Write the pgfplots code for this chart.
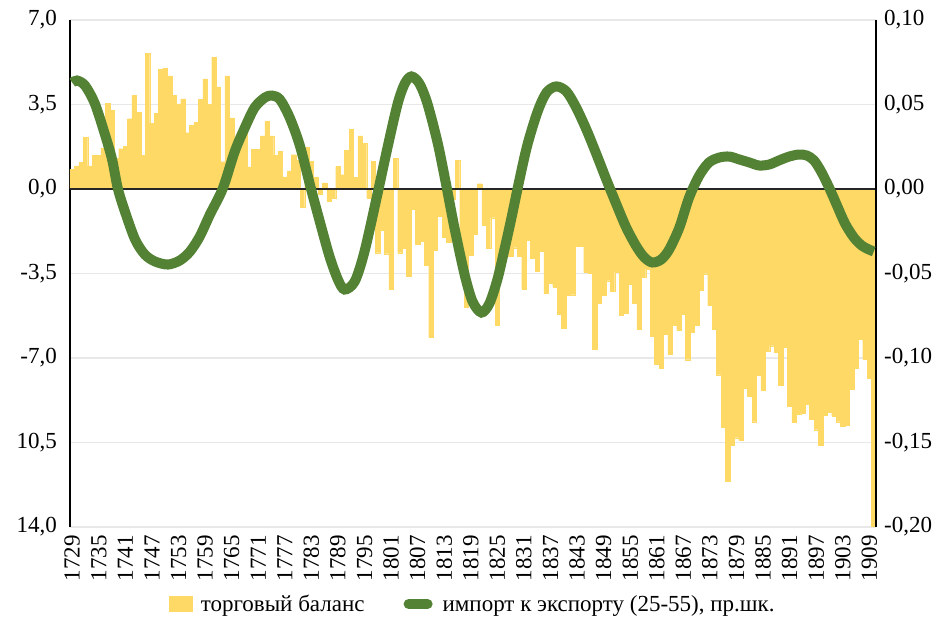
\documentclass[border=0pt]{standalone}
\usepackage{pgfplots}
\pgfplotsset{compat=1.18}
\usepackage{pgfplotstable}
\usepackage{fontspec}
\setmainfont{Liberation Serif}
\definecolor{barcol}{HTML}{FFD966}
\definecolor{linecol}{HTML}{548235}
\newcommand{\chartfont}{\fontsize{23}{27}\selectfont}

\pgfplotstableread{
year val
1729 0.82
1730 0.96
1731 1.10
1732 2.15
1733 0.96
1734 1.40
1735 1.40
1736 1.70
1737 3.56
1738 3.25
1739 1.26
1740 1.67
1741 1.76
1742 2.91
1743 3.87
1744 3.18
1745 1.40
1746 5.63
1747 2.72
1748 3.13
1749 4.97
1750 5.01
1751 4.69
1752 3.87
1753 3.53
1754 3.73
1755 2.33
1756 2.64
1757 2.77
1758 3.71
1759 4.56
1760 3.50
1761 5.46
1762 4.23
1763 1.13
1764 4.69
1765 2.95
1766 2.09
1767 2.20
1768 2.50
1769 0.92
1770 1.65
1771 1.65
1772 2.20
1773 2.81
1774 2.20
1775 1.40
1776 1.55
1777 0.50
1778 0.75
1779 1.42
1780 1.20
1781 -0.75
1782 1.73
1783 1.14
1784 0.50
1785 -0.20
1786 0.25
1787 -0.50
1788 -0.37
1789 0.93
1790 0.59
1791 1.59
1792 2.47
1793 0.49
1794 2.20
1795 1.89
1796 -0.37
1797 1.14
1798 -2.64
1799 -1.70
1800 -2.68
1801 -4.14
1802 1.28
1803 -2.64
1804 -2.47
1805 -3.62
1806 -0.85
1807 -2.30
1808 -2.15
1809 -3.16
1810 -6.13
1811 -2.53
1812 -1.13
1813 -2.00
1814 -2.20
1815 -0.41
1816 1.20
1817 -2.50
1818 -4.90
1819 -2.74
1820 -1.88
1821 0.22
1822 -1.50
1823 -2.47
1824 -1.19
1825 -5.65
1826 -2.64
1827 -2.66
1828 -2.77
1829 -2.43
1830 -2.77
1831 -4.14
1832 -2.11
1833 -2.88
1834 -3.39
1835 -2.57
1836 -4.31
1837 -3.90
1838 -4.05
1839 -5.20
1840 -5.76
1841 -4.39
1842 -4.38
1843 -2.36
1844 -2.36
1845 -3.46
1846 -3.49
1847 -6.64
1848 -4.72
1849 -4.39
1850 -3.80
1851 -4.25
1852 -3.43
1853 -5.24
1854 -5.15
1855 -3.94
1856 -4.72
1857 -5.82
1858 -3.66
1859 -3.32
1860 -6.09
1861 -7.27
1862 -7.44
1863 -6.00
1864 -6.86
1865 -5.65
1866 -5.86
1867 -5.20
1868 -7.07
1869 -5.93
1870 -5.66
1871 -4.18
1872 -3.51
1873 -4.83
1874 -5.80
1875 -7.69
1876 -9.88
1877 -12.10
1878 -10.60
1879 -10.30
1880 -10.40
1881 -8.26
1882 -8.59
1883 -9.64
1884 -7.73
1885 -8.35
1886 -6.73
1887 -6.49
1888 -6.76
1889 -8.12
1890 -6.56
1891 -9.00
1892 -9.67
1893 -9.32
1894 -9.28
1895 -8.90
1896 -9.53
1897 -9.97
1898 -10.60
1899 -9.36
1900 -9.23
1901 -9.42
1902 -9.64
1903 -9.83
1904 -9.78
1905 -8.28
1906 -7.43
1907 -6.24
1908 -7.04
1909 -7.84
1910 -14.00
}\balancetable

\pgfplotstableread{
year val
1729.0 0.0630
1730.1 0.0642
1731.9 0.0612
1734.1 0.0506
1736.4 0.0322
1738.0 0.0175
1739.3 0.0003
1740.9 -0.0133
1743.2 -0.0299
1745.4 -0.0388
1747.7 -0.0429
1750.6 -0.0447
1753.3 -0.0423
1755.6 -0.0370
1757.8 -0.0281
1760.1 -0.0151
1763.0 0.0003
1765.7 0.0222
1768.0 0.0364
1770.2 0.0482
1772.5 0.0541
1774.1 0.0553
1775.9 0.0530
1778.1 0.0423
1780.4 0.0257
1782.9 0.0003
1784.9 -0.0192
1787.1 -0.0399
1789.0 -0.0536
1790.5 -0.0595
1792.8 -0.0547
1795.0 -0.0370
1798.0 -0.0021
1800.2 0.0246
1802.5 0.0506
1804.1 0.0624
1805.6 0.0666
1807.4 0.0624
1809.2 0.0506
1811.5 0.0275
1813.3 0.0044
1815.3 -0.0228
1817.6 -0.0506
1819.4 -0.0666
1821.4 -0.0731
1823.2 -0.0678
1825.0 -0.0536
1826.6 -0.0358
1828.2 -0.0169
1830.0 0.0056
1831.8 0.0263
1834.1 0.0459
1836.1 0.0571
1838.3 0.0607
1840.6 0.0577
1842.8 0.0482
1845.1 0.0352
1847.4 0.0204
1849.6 0.0056
1851.9 -0.0092
1854.1 -0.0228
1856.4 -0.0340
1858.2 -0.0405
1860.0 -0.0435
1862.0 -0.0417
1863.8 -0.0358
1866.1 -0.0228
1868.3 -0.0050
1870.6 0.0080
1872.8 0.0157
1875.1 0.0186
1877.4 0.0192
1879.6 0.0175
1881.9 0.0157
1884.1 0.0139
1886.4 0.0145
1888.6 0.0169
1890.9 0.0192
1893.1 0.0204
1894.9 0.0198
1896.5 0.0169
1898.1 0.0104
1899.9 0.0009
1901.7 -0.0098
1903.5 -0.0204
1905.5 -0.0287
1907.3 -0.0335
1908.9 -0.0358
1910.0 -0.0370
}\ratiotable

\begin{document}
\begin{tikzpicture}[font=\chartfont]
\useasboundingbox (-70pt,-101pt) rectangle (875pt,527pt);
\begin{axis}[
  at={(0pt,0pt)}, anchor=south west,
  scale only axis, width=806pt, height=507pt,
  xmin=1728.5, xmax=1910.5,
  ymin=-14, ymax=7,
  axis y line*=left, axis x line*=bottom,
  x axis line style={draw=none},
  y axis line style={-, black, line width=1.3pt},
  ytick={-14,-10.5,-7,-3.5,0,3.5,7},
  yticklabels={{14,0},{10,5},{-7,0},{-3,5},{0,0},{3,5},{7,0}},
  xtick={1729,1735,...,1909},
  xticklabels={1729,1735,1741,1747,1753,1759,1765,1771,1777,1783,1789,1795,1801,1807,1813,1819,1825,1831,1837,1843,1849,1855,1861,1867,1873,1879,1885,1891,1897,1903,1909},
  xticklabel style={rotate=90, anchor=east, inner xsep=8pt},
  yticklabel style={anchor=east, inner xsep=13pt},
  tick label style={font=\chartfont},
  major tick length=0pt,
  ymajorgrids, grid style={gray!18, line width=1.3pt},
]
\addplot[ybar, bar width=1, bar shift=0pt, fill=barcol, draw=barcol, line width=0.3pt] table[x=year, y=val] {\balancetable};
\addplot[black!85, line width=1.3pt] coordinates {(1728.5,0) (1910.5,0)};
\end{axis}
\begin{axis}[
  at={(0pt,0pt)}, anchor=south west,
  scale only axis, width=806pt, height=507pt,
  xmin=1728.5, xmax=1910.5,
  ymin=-0.2, ymax=0.1,
  axis y line*=right, axis x line=none,
  y axis line style={-, black, line width=1.3pt},
  ytick={-0.2,-0.15,-0.1,-0.05,0,0.05,0.1},
  yticklabels={{-0,20},{-0,15},{-0,10},{-0,05},{0,00},{0,05},{0,10}},
  yticklabel style={anchor=west, inner xsep=8pt},
  xtick=\empty,
  tick label style={font=\chartfont},
  major tick length=0pt,
  legend style={at={(0.5,-0.152)}, anchor=center, draw=none, fill=none,
    font=\chartfont, legend columns=2,
    /tikz/every even column/.append style={column sep=37pt}},
  legend cell align=left,
]
\addlegendimage{legend image code/.code={\fill[barcol] (0pt,-7.5pt) rectangle (23pt,7.5pt); \path (29pt,0pt);}}
\addlegendentry{торговый баланс}
\addplot[linecol, line width=10pt, smooth, tension=0.5,
  legend image code/.code={\draw[linecol, line width=10pt, line cap=round] (5pt,0pt) -- (24pt,0pt); \path (32pt,0pt);}]
  table[x=year, y=val] {\ratiotable};
\addlegendentry{импорт к экспорту (25-55), пр.шк.}
\end{axis}
\end{tikzpicture}
\end{document}
